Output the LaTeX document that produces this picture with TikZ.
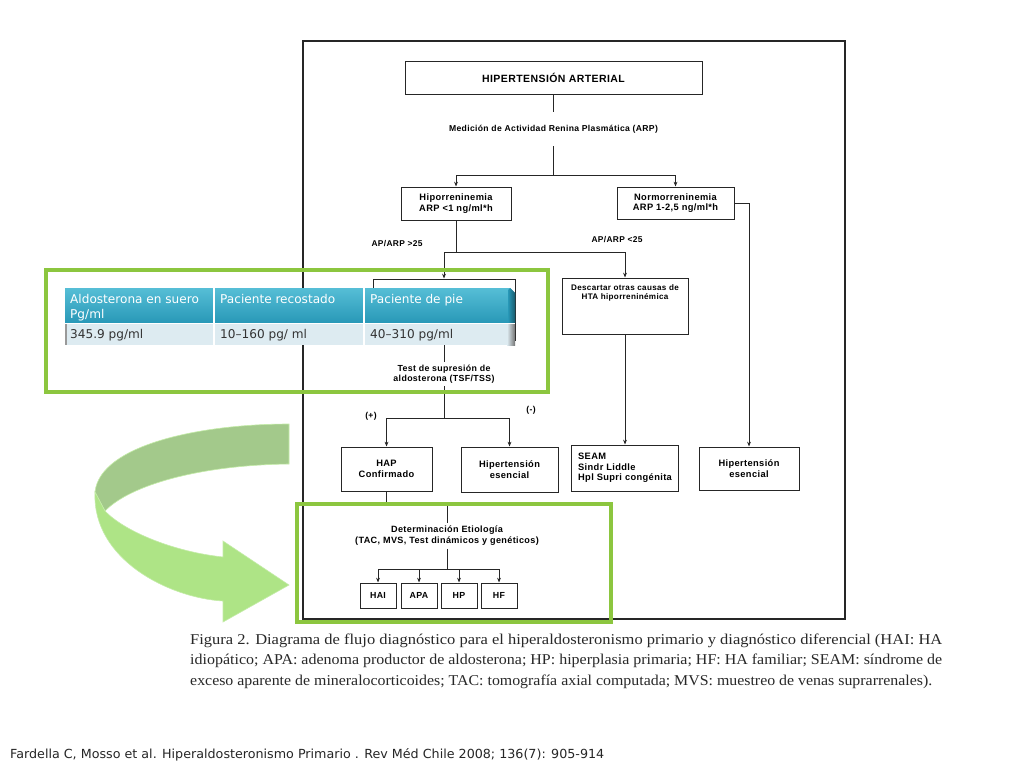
\documentclass[tikz,border=0pt]{standalone}
\usepackage{fontspec}
\usepackage{graphicx}
\setmainfont{Liberation Serif}
\newfontfamily\flow[LetterSpace=4]{Liberation Sans}
\newfontfamily\tabf{DejaVu Sans}
\usetikzlibrary{arrows.meta,calc}
\definecolor{grn}{RGB}{140,198,63}
\definecolor{tealtop}{RGB}{86,190,214}
\definecolor{tealbot}{RGB}{40,152,183}
\definecolor{rowbg}{RGB}{221,235,241}
\definecolor{arrdark}{RGB}{163,201,139}
\definecolor{arrlight}{RGB}{174,228,134}
\definecolor{arredge}{RGB}{196,236,168}
\definecolor{txtgray}{RGB}{40,40,40}
\begin{document}
\begin{tikzpicture}[x=1pt,y=-1pt,
  fbox/.style={draw=black!85, line width=1pt, fill=white, inner sep=0pt, align=center,
    font=\flow\bfseries\fontsize{9.3}{10.5}\selectfont},
  lbl/.style={inner sep=0pt, align=center, font=\flow\bfseries\fontsize{8.6}{10}\selectfont},
  arr/.style={draw=black!85, line width=0.85pt, -{Stealth[length=4.8pt,width=3.8pt]}},
  ln/.style={draw=black!85, line width=0.85pt},
  greenbox/.style={draw=grn, line width=4pt},
  tabtxt/.style={inner sep=0pt, anchor=base west, font=\tabf\fontsize{12.1}{13}\selectfont},
  captxt/.style={inner sep=0pt, anchor=base west, text=txtgray, font=\fontsize{15}{17}\selectfont},
]
\useasboundingbox (0,0) rectangle (1024,768);
\fill[white] (0,0) rectangle (1024,768);

% outer frame
\draw[line width=1.1pt, black!85] (303,41) rectangle (845,619);

% flowchart nodes
\node[fbox, minimum width=297pt, minimum height=33pt,
  font=\flow\bfseries\fontsize{10.5}{12}\selectfont] (ha) at (553.5,77.5) {HIPERTENSIÓN ARTERIAL};
\node[lbl, minimum height=34pt, font=\flow\bfseries\fontsize{8.6}{10}\selectfont] (arp) at (553.5,129) {Medición de Actividad Renina Plasmática (ARP)};
\node[fbox, minimum width=110pt, minimum height=33pt] (hipo) at (456,203.5) {Hiporreninemia\\ARP <1 ng/ml*h};
\node[fbox, minimum width=117pt, minimum height=32pt] (normo) at (675.5,203) {Normorreninemia\\ARP 1-2,5 ng/ml*h};
\node[lbl, font=\flow\bfseries\fontsize{8.4}{9.5}\selectfont] (gt) at (397,244) {AP/ARP >25};
\node[lbl, font=\flow\bfseries\fontsize{8.4}{9.5}\selectfont] (lt) at (617,240) {AP/ARP <25};
\node[fbox, minimum width=142pt, minimum height=61pt] (hid) at (444,309.5) {};
\node[fbox, minimum width=126pt, minimum height=56pt] (desc) at (625,306) {};
\node[lbl, anchor=north, font=\flow\bfseries\fontsize{8.1}{9}\selectfont] (desct) at ($(desc.north)+(0,7)$) {Descartar otras causas de\\HTA hiporreninémica};
\node[lbl, inner ysep=3pt, font=\flow\bfseries\fontsize{8.8}{9.6}\selectfont] (tsf) at (444,374) {Test de supresión de\\aldosterona (TSF/TSS)};
\node[lbl] (pos) at (371,416) {(+)};
\node[lbl] (neg) at (531,410) {(-)};
\node[fbox, minimum width=91pt, minimum height=44pt] (hap) at (386.5,469) {HAP\\Confirmado};
\node[fbox, minimum width=97pt, minimum height=45pt] (he1) at (509.5,469.5) {Hipertensión\\esencial};
\node[fbox, minimum width=107pt, minimum height=46pt, align=left] (seam) at (625,468) {SEAM\\Sindr Liddle\\Hpl Supri congénita};
\node[fbox, minimum width=100pt, minimum height=43pt] (he2) at (749,468.5) {Hipertensión\\esencial};
\node[lbl, inner ysep=3pt, font=\flow\bfseries\fontsize{9.1}{10.8}\selectfont] (etio) at (447,536) {Determinación Etiología\\(TAC, MVS, Test dinámicos y genéticos)};
\node[fbox, minimum width=36pt, minimum height=25pt, font=\flow\bfseries\fontsize{8.8}{10}\selectfont] (hai) at (378,595.5) {HAI};
\node[fbox, minimum width=36pt, minimum height=25pt, font=\flow\bfseries\fontsize{8.8}{10}\selectfont] (apa) at (419,595.5) {APA};
\node[fbox, minimum width=36pt, minimum height=25pt, font=\flow\bfseries\fontsize{8.8}{10}\selectfont] (hp) at (459,595.5) {HP};
\node[fbox, minimum width=36pt, minimum height=25pt, font=\flow\bfseries\fontsize{8.8}{10}\selectfont] (hf) at (499,595.5) {HF};

% connectors
\coordinate (j1) at (553.5,175);
\coordinate (j2) at (456,252);
\coordinate (j3) at (444,418);
\coordinate (j4) at (447,569);
\draw[ln] (ha.south) -- (arp.north);
\draw[ln] (arp.south) -- (j1);
\draw[arr] (j1) -| (hipo.north);
\draw[arr] (j1) -| (normo.north);
\draw[ln] (hipo.south) -- (j2);
\draw[arr] (j2) -| (hid.north);
\draw[arr] (j2) -| (desc.north);
\draw[ln] (hid.south) -- (tsf.north);
\draw[ln] (tsf.south) -- (j3);
\draw[arr] (j3) -| (hap.north);
\draw[arr] (j3) -| (he1.north);
\draw[arr] (desc.south) -- (seam.north);
\draw[arr] (normo.east) -| (he2.north);
\draw[ln] (hap.south) -- ++(0,14) -| (etio.north);
\draw[ln] (etio.south) -- (j4);
\draw[arr] (j4) -| (hai.north);
\draw[arr] (j4) -| (apa.north);
\draw[arr] (j4) -| (hp.north);
\draw[arr] (j4) -| (hf.north);

% table overlay
\fill[rowbg] (65,323) rectangle (515,345);
\shade[top color=tealtop, bottom color=tealbot] (65,288) -- (510,288) -- (515,293) -- (515,323) -- (65,323) -- cycle;
\shade[left color=tealbot, right color=tealbot!60!black] (508,290) -- (510,288) -- (515,293) -- (515,323) -- (508,323) -- cycle;
\shade[left color=rowbg, right color=black!55] (507,323) rectangle (515,345);
\fill[black!40] (65,323) rectangle (67,345);
\draw[white, line width=1.2pt] (214,288) -- (214,345);
\draw[white, line width=1.2pt] (364,288) -- (364,345);
\draw[white, line width=0.8pt] (65,323) -- (515,323);
\node[tabtxt, text=white] (h1a) at (70,303) {Aldosterona en suero};
\node[tabtxt, text=white] (h1b) at (70,318) {Pg/ml};
\node[tabtxt, text=white] (h2) at (220,303) {Paciente recostado};
\node[tabtxt, text=white] (h3) at (370,303) {Paciente de pie};
\node[tabtxt, text=black!80] (b1) at (70,338.5) {345.9 pg/ml};
\node[tabtxt, text=black!80] (b2) at (220,338.5) {10–160 pg/ ml};
\node[tabtxt, text=black!80] (b3) at (370,338.5) {40–310 pg/ml};

% green highlight boxes
\draw[greenbox] (46,270) rectangle (548,392);
\draw[greenbox] (297,504) rectangle (611,622);

% curved arrow
\fill[arrdark, draw=arredge, line width=0.6pt] (289,424) .. controls (200,424) and (100,445) .. (95,492)
  -- (105,511) .. controls (130,485) and (200,465) .. (289,464) -- cycle;
\fill[arrlight, draw=arredge, line width=0.6pt] (95,492) .. controls (92,560) and (170,598) .. (223,601)
  -- (223,622) -- (289,585) -- (223,541) -- (223,557)
  .. controls (175,552) and (125,532) .. (105,511) -- cycle;

% caption
\node[captxt] (c1) at (190,644) {\resizebox{752pt}{\height}{Figura 2. Diagrama de flujo diagnóstico para el hiperaldosteronismo primario y diagnóstico diferencial (HAI: HA}};
\node[captxt] (c2) at (190,664.5) {\resizebox{752pt}{\height}{idiopático; APA: adenoma productor de aldosterona; HP: hiperplasia primaria; HF: HA familiar; SEAM: síndrome de}};
\node[captxt] (c3) at (190,685) {\resizebox{742pt}{\height}{exceso aparente de mineralocorticoides; TAC: tomografía axial computada; MVS: muestreo de venas suprarrenales).}};

% footer
\node[inner sep=0pt, anchor=base west, text=black!85, font=\tabf\fontsize{12.5}{14}\selectfont] (foot) at (10,758)
  {\resizebox{594pt}{\height}{Fardella C, Mosso et al. Hiperaldosteronismo Primario . Rev Méd Chile 2008; 136(7): 905-914}};
\end{tikzpicture}
\end{document}
